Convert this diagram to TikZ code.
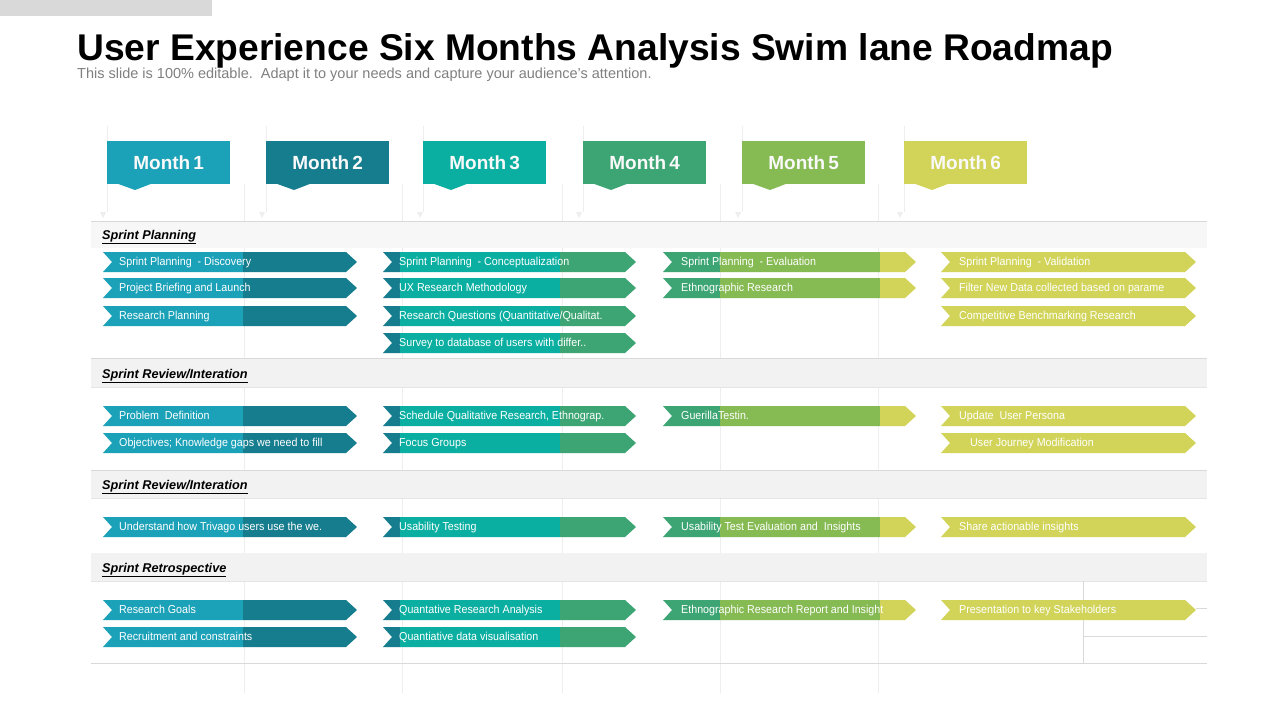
\documentclass[tikz,border=0pt]{standalone}
\usepackage{fontspec}
\setmainfont{Liberation Sans}
\newfontfamily\narrowf[FakeStretch=0.93]{Liberation Sans}
\definecolor{cA}{HTML}{1BA1B8}
\definecolor{cB}{HTML}{167D8E}
\definecolor{cC}{HTML}{0BAFA1}
\definecolor{cD}{HTML}{3DA574}
\definecolor{cE}{HTML}{86BA52}
\definecolor{cF}{HTML}{D1D459}
\definecolor{gridc}{HTML}{EEEEEE}
\definecolor{linec}{HTML}{D9D9D9}
\definecolor{bandc}{HTML}{F2F2F2}
\definecolor{subc}{HTML}{808080}
\tikzset{
  bartext/.style={anchor=west, text=white, inner sep=0pt, text height=8.5pt, text depth=2.5pt, font=\narrowf\fontsize{11.5}{13}\selectfont},
  tab/.style={minimum width=123pt, minimum height=43pt, inner sep=0pt, text=white!95!gray, font=\fontsize{19}{22}\selectfont\bfseries},
  secttext/.style={anchor=base west, inner sep=0pt, font=\fontsize{12.7}{15}\selectfont\bfseries\itshape},
  faint/.style={draw=gridc, line width=0.8pt},
  rule/.style={draw=linec, line width=0.8pt}
}
\newcommand\chevpath[3]{(#1,#2-10) -- (#1+#3-11,#2-10) -- (#1+#3,#2) -- (#1+#3-11,#2+10) -- (#1,#2+10) -- (#1+9,#2) -- cycle}
\newcommand\colA[3]{%
  \begin{scope}
  \clip \chevpath{103}{#1}{254};
  \fill[cA] (100,#1-11) rectangle (243,#1+11);
  \fill[cB] (243,#1-11) rectangle (360,#1+11);
  \end{scope}
  \node[bartext] (#3) at (119,#1) {#2};}
\newcommand\colB[3]{%
  \begin{scope}
  \clip \chevpath{383}{#1}{253};
  \fill[cB] (380,#1-11) rectangle (400,#1+11);
  \fill[cC] (400,#1-11) rectangle (560,#1+11);
  \fill[cD] (560,#1-11) rectangle (640,#1+11);
  \end{scope}
  \node[bartext] (#3) at (399,#1) {#2};}
\newcommand\colC[3]{%
  \begin{scope}
  \clip \chevpath{663}{#1}{253};
  \fill[cD] (660,#1-11) rectangle (720,#1+11);
  \fill[cE] (720,#1-11) rectangle (880,#1+11);
  \fill[cF] (880,#1-11) rectangle (920,#1+11);
  \end{scope}
  \node[bartext] (#3) at (681,#1) {#2};}
\newcommand\colD[4][959]{%
  \fill[cF] \chevpath{941}{#2}{255};
  \node[bartext] (#4) at (#1,#2) {#3};}
\begin{document}
\begin{tikzpicture}[x=1pt,y=-1pt]
\useasboundingbox (0,0) rectangle (1280,720);
\fill[white] (0,0) rectangle (1280,720);
% top gray strip
\fill[linec] (0,0) rectangle (212,16);
% title
\node[anchor=base west, inner sep=0pt, font=\fontsize{37.2}{42}\selectfont\bfseries] (title) at (77,60) {User Experience Six Months Analysis Swim lane Roadmap};
\node[anchor=base west, inner sep=0pt, text=subc, font=\fontsize{14.5}{17}\selectfont] (subtitle) at (77,78) {This slide is 100\% editable.\ \ Adapt it to your needs and capture your audience's attention.};
% faint column grid lines
\foreach \gx in {244,402,562,720,878} \draw[faint] (\gx,184) -- (\gx,693);
% faint lines at tab left edges with small pointers
\foreach \tx/\px in {107/103,266/262,423/420,583/579,742/738,904/900} {
  \draw[faint] (\tx,126) -- (\tx,212);
  \fill[gridc] (\px-3,212) -- (\px+3,212) -- (\px,218) -- cycle;
}
% month tabs
\foreach \i/\lx/\c in {1/107/cA,2/266/cB,3/423/cC,4/583/cD,5/742/cE,6/904/cF} {
  \node[tab, fill=\c, anchor=north west] (m\i) at (\lx,141) {Month\,\i};
  \fill[\c] (\lx+10,183.5) -- (\lx+45,183.5) -- (\lx+28,190) -- cycle;
}
% section bands
\fill[black!3] (91,222) rectangle (1207,248);
\fill[bandc] (91,359) rectangle (1207,387);
\fill[bandc] (91,470) rectangle (1207,498);
\fill[bandc] (91,553) rectangle (1207,581);
\draw[rule] (91,221.5) -- (1207,221.5);
\draw[rule] (91,358.5) -- (1207,358.5);
\draw[rule] (91,470) -- (1207,470);
\draw[rule] (91,663.5) -- (1207,663.5);
\draw[draw=black!10, line width=0.6pt] (91,387) -- (1207,387);
\draw[draw=black!10, line width=0.6pt] (91,498) -- (1207,498);
\draw[draw=black!10, line width=0.6pt] (91,581) -- (1207,581);
% bottom-right table lines
\draw[rule] (1083,581) -- (1083,663.5);
\draw[rule] (1196,608) -- (1207,608);
\draw[rule] (1083,636) -- (1207,636);
% section headers
\node[secttext] (s1) at (102,239) {\underline{Sprint Planning}};
\node[secttext] (s2) at (102,378) {\underline{Sprint Review/Interation}};
\node[secttext] (s3) at (102,489) {\underline{Sprint Review/Interation}};
\node[secttext] (s4) at (102,572) {\underline{Sprint Retrospective}};
% Sprint Planning
\colA{262}{Sprint Planning\ \ - Discovery}{a1}
\colA{288}{Project Briefing and Launch}{a2}
\colA{316}{Research Planning}{a3}
\colB{262}{Sprint Planning\ \ - Conceptualization}{b1}
\colB{288}{UX Research Methodology}{b2}
\colB{316}{Research Questions (Quantitative/Qualitat.}{b3}
\colB{343}{Survey to database of users with differ..}{b4}
\colC{262}{Sprint Planning\ \ - Evaluation}{c1}
\colC{288}{Ethnographic Research}{c2}
\colD{262}{Sprint Planning\ \ - Validation}{d1}
\colD{288}{Filter New Data collected based on parame}{d2}
\colD{316}{Competitive Benchmarking Research}{d3}
% Sprint Review 1
\colA{416}{Problem\ \ Definition}{a4}
\colA{443}{Objectives; Knowledge gaps we need to fill}{a5}
\colB{416}{Schedule Qualitative Research, Ethnograp.}{b5}
\colB{443}{Focus Groups}{b6}
\colC{416}{GuerillaTestin.}{c3}
\colD{416}{Update\ \ User Persona}{d4}
\colD[970]{443}{User Journey Modification}{d5}
% Sprint Review 2
\colA{527}{Understand how Trivago users use the we.}{a6}
\colB{527}{Usability Testing}{b7}
\colC{527}{Usability Test Evaluation and\ \ Insights}{c4}
\colD{527}{Share actionable insights}{d6}
% Retrospective
\colA{610}{Research Goals}{a7}
\colA{637}{Recruitment and constraints}{a8}
\colB{610}{Quantative Research Analysis}{b8}
\colB{637}{Quantiative data visualisation}{b9}
\colC{610}{Ethnographic Research Report and Insight}{c5}
\colD{610}{Presentation to key Stakeholders}{d7}
\end{tikzpicture}
\end{document}
